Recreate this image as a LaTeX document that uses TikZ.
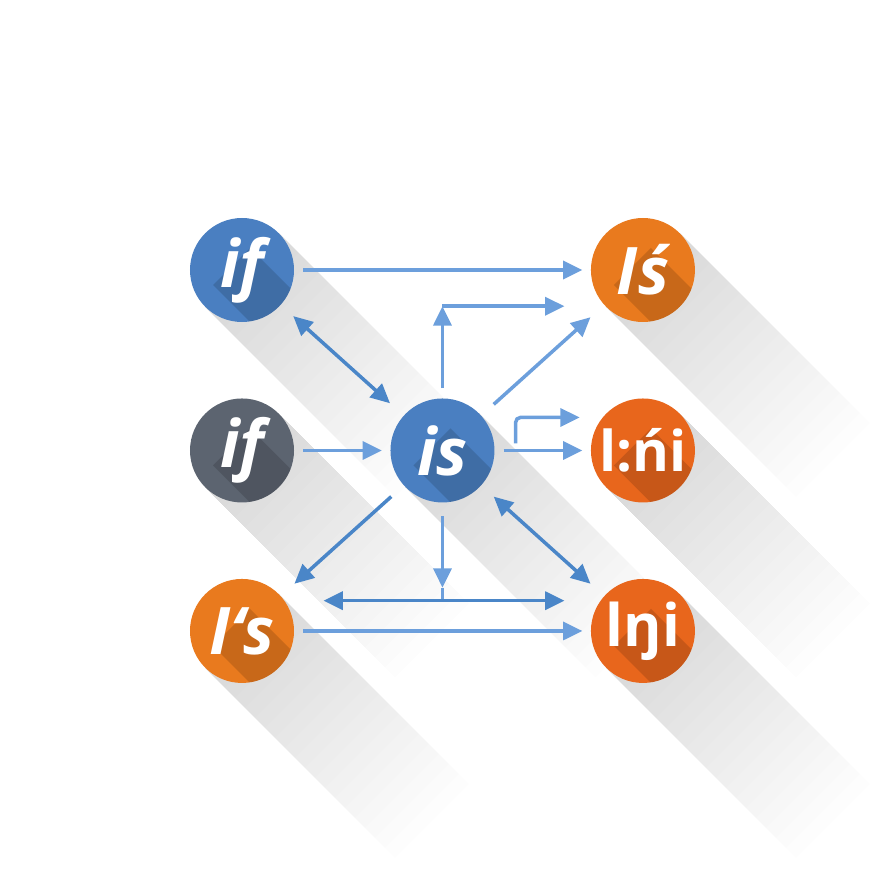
\documentclass[tikz,border=0pt]{standalone}
\usepackage{fontspec}
\setmainfont{Open Sans}
\usetikzlibrary{arrows.meta,positioning,calc,backgrounds}
\definecolor{nodeblue}{HTML}{4A7FC1}
\definecolor{nodegray}{HTML}{5C6470}
\definecolor{nodeorange}{HTML}{E97A1E}
\definecolor{nodered}{HTML}{E8661C}
\definecolor{arrowblue}{HTML}{6C9FDC}
\definecolor{arrowdark}{HTML}{4A86C8}
\tikzset{
    bubble/.style={
        circle,
        minimum size=3.12cm,
        inner sep=0pt,
        text=white,
        font=\fontsize{56}{60}\selectfont\bfseries
    },
    link/.style={
        draw=arrowblue,
        line width=3pt,
        shorten <=0.27cm,
        shorten >=0.25cm,
        -{Triangle[length=0.58cm,width=0.54cm]}
    },
    twolink/.style={
        link,
        draw=arrowdark,
        {Triangle[length=0.58cm,width=0.54cm]}-{Triangle[length=0.58cm,width=0.54cm]}
    },
    slant/.style={
        shorten <=0.5cm,
        shorten >=0.55cm
    },
    plain/.style={
        draw=arrowblue,
        line width=3pt
    },
}

\begin{document}
\begin{tikzpicture}[x=0.03cm, y=-0.03cm, node distance = 2.28cm and 2.88cm]
    \useasboundingbox (0,0) rectangle (888,875);
    % nodes
    \node[bubble] (iftop) at (242,270) {\itshape if};
    \node[bubble, below= of iftop] (ifmid) {\itshape if};
    \node[bubble, below= of ifmid] (isbot) {\itshape I‘s};
    \node[bubble, right= of ifmid] (iscen) {\itshape is};
    \node[bubble, right= of iscen, font=\fontsize{48}{52}\selectfont\bfseries] (lni) {l:ńi};
    \node[bubble, above= of lni] (istop) {\itshape Iś};
    \node[bubble, below= of lni, font=\fontsize{50}{54}\selectfont\bfseries] (lngi) {lŋi};

    % coordinates for the bent lines
    \coordinate (upbend) at ($(iscen.north)+(0,-92)$);
    \coordinate (upend) at ($(upbend)+(122,0)$);
    \coordinate (hookstart) at ($(iscen.east)+(21,-7)$);
    \coordinate (hookend) at ($(lni.west)+(-11,-33)$);
    \coordinate (barmid) at ($(iscen.south)+(0,98)$);
    \coordinate (barstem) at ($(barmid)+(0,-13)$);
    \coordinate (barleft) at ($(barmid)+(-119,0)$);
    \coordinate (barright) at ($(barmid)+(122,0)$);

    % shadows and discs
    \begin{scope}[on background layer]
        \foreach \n in {iftop,ifmid,isbot,iscen,istop,lni,lngi}{
            \foreach \l in {10,20,...,190}{
                \fill[black, opacity=0.006] (\n.45) -- ++(\l,\l) -- ($(\n.225)+(\l,\l)$) -- (\n.225) -- cycle;
            }
        }
        \foreach \n/\c in {iftop/nodeblue,ifmid/nodegray,isbot/nodeorange,iscen/nodeblue,istop/nodeorange,lni/nodered,lngi/nodered}{
            \fill[\c] (\n.center) circle[radius=1.56cm];
            \begin{scope}
                \clip (\n.center) circle[radius=1.56cm];
                \fill[black, opacity=0.14] ($(\n.center)+(8,-22)$) -- ($(\n.center)+(-29,15)$) -- ++(120,120) -- ($(\n.center)+(128,98)$) -- cycle;
            \end{scope}
        }
    \end{scope}

    % lines
    \draw[link] (iftop.east) -- (istop.west);
    \draw[link] (ifmid.east) -- (iscen.west);
    \draw[link] (iscen.east) -- (lni.west);
    \draw[link] (isbot.east) -- (lngi.west);
    \draw[twolink, slant] (iftop) -- (iscen);
    \draw[link, slant] (iscen) -- (istop);
    \draw[link, slant, draw=arrowdark] (iscen) -- (isbot);
    \draw[twolink, slant] (iscen) -- (lngi);
    \draw[link, shorten <=0.3cm, shorten >=0cm] (iscen.north) -- (upbend);
    \draw[link, shorten <=0cm, shorten >=0cm] (upbend) -- (upend);
    \draw[link, shorten <=0cm, shorten >=0cm, rounded corners=4pt] (hookstart) |- (hookend);
    \draw[link, shorten <=0.4cm, shorten >=0.39cm] (iscen.south) -- (barmid);
    \draw[plain] (barstem) -- (barmid);
    \draw[twolink, shorten <=0cm, shorten >=0cm] (barleft) -- (barright);

\end{tikzpicture}
\end{document}
